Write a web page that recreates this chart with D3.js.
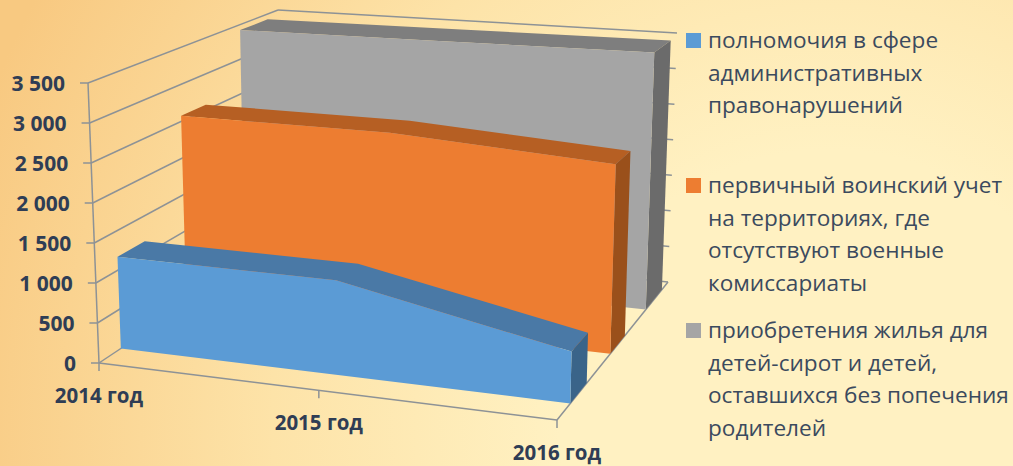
<!DOCTYPE html>
<html>
<head>
<meta charset="utf-8">
<script src="https://cdn.jsdelivr.net/npm/d3@7"></script>
<style>
  html, body { margin: 0; padding: 0; overflow: hidden; }
</style>
</head>
<body>
<script>
// values
var categories = ["2014 год", "2015 год", "2016 год"];
var seriesNames = ["blue", "orange", "grey"];
var blueValues = [1170, 1160, 610];
var orangeValues = [2575, 2565, 2390];
var greyValues = [3420, 3440, 3460];
var valueTicks = [0, 500, 1000, 1500, 2000, 2500, 3000, 3500];

var legendBlue = ["полномочия в сфере", "административных", "правонарушений"];
var legendOrange = ["первичный воинский учет", "на территориях, где", "отсутствуют военные", "комиссариаты"];
var legendGrey = ["приобретения жилья для", "детей-сирот и детей,", "оставшихся без попечения", "родителей"];

var svgWidth = 1013;
var svgHeight = 466;

var svg = d3.select("body")
  .append("svg")
  .attr("width", svgWidth)
  .attr("height", svgHeight)
  .style("display", "block");

// background
var grad = svg.append("defs").append("radialGradient")
  .attr("id", "bg")
  .attr("gradientUnits", "userSpaceOnUse")
  .attr("cx", 830).attr("cy", 420).attr("r", 900);
grad.append("stop").attr("offset", "0.3").attr("stop-color", "#fff1c2");
grad.append("stop").attr("offset", "0.62").attr("stop-color", "#fde3a8");
grad.append("stop").attr("offset", "1").attr("stop-color", "#f8c981");

svg.append("rect")
  .attr("width", svgWidth)
  .attr("height", svgHeight)
  .attr("fill", "url(#bg)");

// scales go to unit cube, cube corners then go to the screen
var xScale = d3.scaleLinear().domain([0, 1, 2]).range([0, 0.48, 1]);
var yScale = d3.scaleLinear().domain([0, 3500]).range([0, 1]);
var zBand = d3.scaleBand().domain(seriesNames).range([0.01, 1.06]).paddingInner(0.59).paddingOuter(0.33);
// perspective squeezes the depth a bit unevenly
var zWarp = d3.scaleLinear().domain([zBand("blue"), zBand("orange"), zBand("grey"), 1]).range([0.12, 0.48, 0.80, 1]);

var frontBottom = d3.interpolate([99, 363], [557, 420]);
var backBottom = d3.interpolate([281, 242], [668, 282]);
var frontTop = d3.interpolate([88, 83], [564, 116]);
var backTop = d3.interpolate([278, 10], [677, 33]);

function project(i, value, z) {
  var u = xScale(i);
  var v = yScale(value);
  var bottom = d3.interpolate(frontBottom(u), backBottom(u))(z);
  var top = d3.interpolate(frontTop(u), backTop(u))(z);
  return d3.interpolate(bottom, top)(v);
}

var line = d3.line();
var axisColor = "#8d9296";

function segment(a, b) {
  svg.append("path")
    .attr("d", line([a, b]))
    .attr("fill", "none")
    .attr("stroke", axisColor)
    .attr("stroke-width", 1.5);
}

// walls
valueTicks.forEach(function (t) {
  segment(project(0, t, 0), project(0, t, 1));
  segment(project(0, t, 1), project(2, t, 1));
  var p = project(0, t, 0);
  segment([p[0] - 8, p[1]], p);
});
segment(project(0, 0, 0), project(0, 3500, 0));
segment(project(0, 0, 0), project(2, 0, 0));
segment(project(2, 0, 0), project(2, 0, 1));

var fmt = d3.formatLocale({ thousands: " ", grouping: [3], decimal: ".", currency: ["", ""] }).format(",");

svg.selectAll(".tickLabel")
  .data(valueTicks)
  .enter()
  .append("text")
  .attr("class", "tickLabel")
  .attr("x", function (d) { return project(0, d, 0)[0] - 23; })
  .attr("y", function (d) { return project(0, d, 0)[1] + 8; })
  .attr("text-anchor", "end")
  .attr("font-family", "Open Sans")
  .attr("font-weight", "bold")
  .attr("font-size", 21)
  .attr("fill", "#2f3d55")
  .text(fmt);

categories.forEach(function (c, i) {
  var p = project(i, 0, 0);
  segment(p, [p[0], p[1] + 8]);
  svg.append("text")
    .attr("x", p[0])
    .attr("y", p[1] + 40)
    .attr("text-anchor", "middle")
    .attr("font-family", "Open Sans")
    .attr("font-weight", "bold")
    .attr("font-size", 20.5)
    .attr("fill", "#2f3d55")
    .text(c);
});

// one area series: top strip, right side, front face
function drawSeries(name, values, front, topColor, side) {
  var z0 = zWarp(zBand(name));
  var z1 = zWarp(zBand(name) + zBand.bandwidth());
  var idx = d3.range(values.length);
  var last = values.length - 1;

  var topFace = idx.map(function (i) { return project(i, values[i], z0); })
    .concat(idx.slice().reverse().map(function (i) { return project(i, values[i], z1); }));
  svg.append("path").attr("d", line(topFace) + "Z").attr("fill", topColor);

  var sideFace = [project(last, 0, z0), project(last, values[last], z0), project(last, values[last], z1), project(last, 0, z1)];
  svg.append("path").attr("d", line(sideFace) + "Z").attr("fill", side);

  var frontFace = [project(0, 0, z0)]
    .concat(idx.map(function (i) { return project(i, values[i], z0); }))
    .concat([project(last, 0, z0)]);
  svg.append("path").attr("d", line(frontFace) + "Z").attr("fill", front);
}

drawSeries("grey", greyValues, "#a5a5a5", "#7e7e7e", "#6b6b6b");
drawSeries("orange", orangeValues, "#ed7d31", "#b65f23", "#9a501b");
drawSeries("blue", blueValues, "#5b9bd5", "#4a79a6", "#3a6489");

// legend
function drawLegend(lines, color, firstBaseline) {
  svg.append("rect")
    .attr("x", 686)
    .attr("y", firstBaseline - 15)
    .attr("width", 15)
    .attr("height", 15)
    .attr("fill", color);
  lines.forEach(function (t, i) {
    svg.append("text")
      .attr("x", 708)
      .attr("y", firstBaseline + i * 32.5)
      .attr("font-family", "Open Sans")
      .attr("font-size", 22.6)
      .attr("fill", "#3b4a5e")
      .text(t);
  });
}

drawLegend(legendBlue, "#5b9bd5", 48);
drawLegend(legendOrange, "#ed7d31", 193);
drawLegend(legendGrey, "#a5a5a5", 338);
</script>
</body>
</html>
